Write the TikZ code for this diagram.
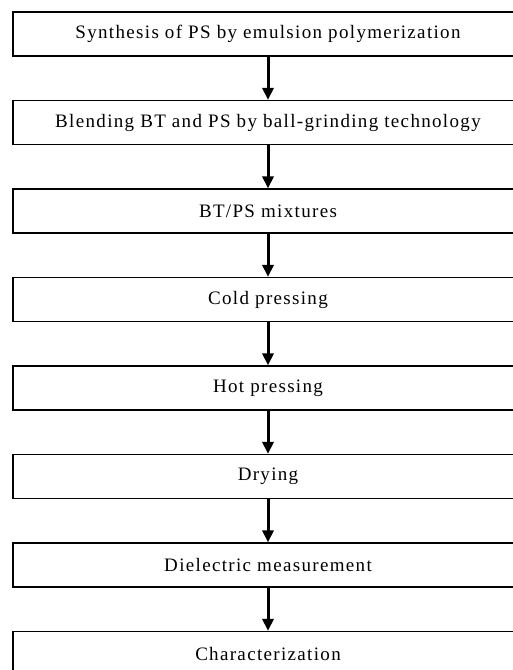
\documentclass[tikz,border=0pt]{standalone}
\usepackage{fontspec}
\setmainfont{Liberation Serif}
\newfontfamily\stepfont[LetterSpace=7]{Liberation Serif}
\usetikzlibrary{arrows.meta}

\begin{document}
\begin{tikzpicture}[
    x=1pt, y=1pt,
    stepbox/.style={
        draw,
        line width=1.2pt,
        minimum width=510pt,
        minimum height=44pt,
        inner sep=0pt,
        align=center,
        font=\stepfont\fontsize{19}{22}\selectfont
    },
    flow/.style={
        -{Triangle[width=11pt,length=12pt]},
        line width=3pt
    }
]
    \clip (0,0) rectangle (513,-670);
    \useasboundingbox (0,0) rectangle (513,-670);

    % --- Steps ---
    \node[stepbox] (s1) at (268,-34) {Synthesis of PS by emulsion polymerization};
    \node[stepbox] (s2) at (268,-122.5) {Blending BT and PS by ball-grinding technology};
    \node[stepbox] (s3) at (268,-211) {BT/PS mixtures};
    \node[stepbox] (s4) at (268,-299.5) {Cold pressing};
    \node[stepbox] (s5) at (268,-388) {Hot pressing};
    \node[stepbox] (s6) at (268,-476.5) {Drying};
    \node[stepbox] (s7) at (268,-565) {Dielectric measurement};
    \node[stepbox] (s8) at (268,-653.5) {Characterization};

    % --- Arrows ---
    \draw[flow] (s1) -- (s2);
    \draw[flow] (s2) -- (s3);
    \draw[flow] (s3) -- (s4);
    \draw[flow] (s4) -- (s5);
    \draw[flow] (s5) -- (s6);
    \draw[flow] (s6) -- (s7);
    \draw[flow] (s7) -- (s8);
\end{tikzpicture}
\end{document}
